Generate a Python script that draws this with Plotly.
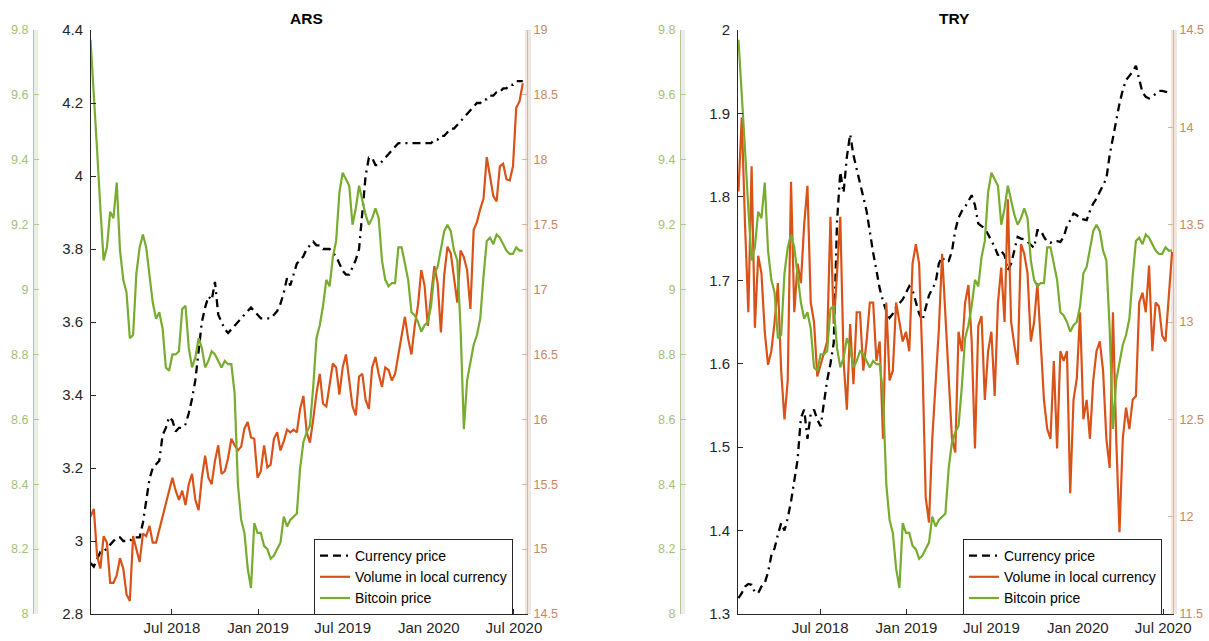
import pandas as pd
import plotly.graph_objects as go

# ---------------- data (weekly, log scale values) ----------------
week_start = "2018-01-08"
n_weeks = 133

btc_price = [
    9.77, 9.58, 9.43, 9.25, 9.09, 9.13, 9.24, 9.22, 9.33, 9.12,
    9.03, 8.99, 8.85, 8.86, 9.05, 9.13, 9.17, 9.13, 9.04, 8.96,
    8.91, 8.93, 8.88, 8.76, 8.75, 8.80, 8.80, 8.81, 8.94, 8.95,
    8.82, 8.76, 8.79, 8.85, 8.82, 8.76, 8.78, 8.81, 8.80, 8.78,
    8.76, 8.78, 8.77, 8.77, 8.68, 8.40, 8.29, 8.25, 8.14, 8.08,
    8.28, 8.25, 8.25, 8.21, 8.20, 8.17, 8.18, 8.20, 8.22, 8.30,
    8.27, 8.29, 8.30, 8.31, 8.45, 8.53, 8.56, 8.58, 8.70, 8.85,
    8.89, 8.95, 9.03, 9.01, 9.10, 9.15, 9.30, 9.36, 9.34, 9.32,
    9.20, 9.25, 9.32, 9.27, 9.23, 9.20, 9.22, 9.25, 9.22, 9.09,
    9.03, 9.01, 9.02, 9.02, 9.13, 9.13, 9.08, 9.03, 8.93, 8.92,
    8.90, 8.87, 8.89, 8.90, 8.95, 9.05, 9.07, 9.12, 9.18, 9.20,
    9.18, 9.12, 9.09, 8.88, 8.57, 8.72, 8.78, 8.83, 8.86, 8.91,
    9.04, 9.15, 9.16, 9.14, 9.17, 9.16, 9.14, 9.12, 9.11, 9.11,
    9.13, 9.12, 9.12,
]

ars_currency = [
    2.94, 2.93, 2.95, 2.97, 2.97, 2.98, 2.99, 3.00, 3.01, 3.01,
    3.00, 3.00, 3.00, 3.01, 3.01, 3.01, 3.05, 3.11, 3.17, 3.20,
    3.21, 3.22, 3.29, 3.31, 3.34, 3.33, 3.30, 3.31, 3.31, 3.32,
    3.35, 3.39, 3.44, 3.52, 3.60, 3.64, 3.67, 3.66, 3.71, 3.62,
    3.60, 3.58, 3.57, 3.58, 3.59, 3.60, 3.61, 3.62, 3.63, 3.64,
    3.63, 3.62, 3.61, 3.61, 3.61, 3.61, 3.62, 3.63, 3.65, 3.68,
    3.72, 3.70, 3.73, 3.76, 3.77, 3.78, 3.80, 3.81, 3.82, 3.81,
    3.81, 3.80, 3.80, 3.80, 3.79, 3.78, 3.76, 3.74, 3.73, 3.73,
    3.75, 3.77, 3.80, 3.90, 4.00, 4.05, 4.05, 4.03, 4.03, 4.04,
    4.05, 4.06, 4.07, 4.08, 4.09, 4.09, 4.09, 4.09, 4.09, 4.09,
    4.09, 4.09, 4.09, 4.09, 4.09, 4.10, 4.10, 4.11, 4.11, 4.12,
    4.13, 4.13, 4.14, 4.15, 4.16, 4.17, 4.18, 4.19, 4.20, 4.20,
    4.21, 4.21, 4.22, 4.22, 4.23, 4.23, 4.24, 4.24, 4.25, 4.25,
    4.26, 4.26, 4.26,
]

ars_volume = [
    15.25, 15.31, 14.95, 14.85, 15.10, 15.05, 14.74, 14.74, 14.80, 14.93,
    14.85, 14.65, 14.60, 15.10, 15.00, 14.90, 15.12, 15.10, 15.18, 15.05,
    15.05, 15.15, 15.24, 15.35, 15.45, 15.55, 15.45, 15.38, 15.45, 15.34,
    15.50, 15.58, 15.38, 15.30, 15.55, 15.72, 15.55, 15.50, 15.68, 15.80,
    15.58, 15.60, 15.70, 15.85, 15.80, 15.76, 15.79, 15.93, 15.98, 15.86,
    15.85, 15.55, 15.60, 15.80, 15.63, 15.65, 15.85, 15.90, 15.76, 15.83,
    15.92, 15.90, 15.92, 15.90, 16.08, 16.18, 15.90, 15.82, 16.00, 16.20,
    16.35, 16.12, 16.10, 16.25, 16.43, 16.40, 16.19, 16.40, 16.50, 16.30,
    16.10, 16.03, 16.33, 16.35, 16.15, 16.08, 16.40, 16.48, 16.35, 16.25,
    16.40, 16.38, 16.30, 16.35, 16.50, 16.62, 16.79, 16.62, 16.50, 16.72,
    16.88, 17.15, 17.03, 16.72, 16.95, 17.18, 17.05, 16.67, 17.11, 17.33,
    17.28, 17.10, 16.90, 17.30, 17.25, 17.15, 16.85, 17.46, 17.52, 17.62,
    17.70, 18.02, 17.86, 17.72, 17.68, 17.95, 17.97, 17.85, 17.84, 17.95,
    18.40, 18.45, 18.59,
]

try_currency = [
    1.319, 1.325, 1.333, 1.336, 1.335, 1.326, 1.325, 1.333, 1.337, 1.350,
    1.370, 1.379, 1.395, 1.409, 1.400, 1.415, 1.435, 1.460, 1.485, 1.535,
    1.545, 1.510, 1.540, 1.545, 1.533, 1.525, 1.555, 1.580, 1.600, 1.625,
    1.770, 1.830, 1.805, 1.848, 1.875, 1.850, 1.833, 1.818, 1.800, 1.783,
    1.757, 1.733, 1.712, 1.690, 1.675, 1.663, 1.655, 1.660, 1.668, 1.673,
    1.677, 1.685, 1.693, 1.688, 1.675, 1.660, 1.652, 1.667, 1.682, 1.690,
    1.697, 1.720, 1.728, 1.722, 1.723, 1.735, 1.760, 1.775, 1.783, 1.788,
    1.795, 1.802, 1.790, 1.768, 1.765, 1.762, 1.755, 1.748, 1.740, 1.730,
    1.735, 1.730, 1.712, 1.720, 1.735, 1.752, 1.750, 1.749, 1.746, 1.743,
    1.739, 1.760, 1.760, 1.752, 1.746, 1.745, 1.747, 1.747, 1.746, 1.752,
    1.765, 1.772, 1.780, 1.778, 1.774, 1.773, 1.772, 1.783, 1.792, 1.798,
    1.806, 1.813, 1.822, 1.850, 1.872, 1.890, 1.912, 1.928, 1.940, 1.945,
    1.950, 1.957, 1.942, 1.925, 1.920, 1.918, 1.920, 1.923, 1.927, 1.927,
    1.926, 1.925, 1.925,
]

try_volume = [
    13.67, 14.05, 13.50, 13.05, 13.80, 12.97, 13.34, 13.25, 12.95, 12.78,
    12.85, 13.00, 13.20, 12.75, 12.50, 12.70, 13.72, 13.05, 13.30, 13.20,
    13.50, 13.70, 13.10, 13.00, 12.72, 12.78, 12.85, 12.90, 13.54, 12.99,
    13.25, 13.54, 12.80, 12.55, 12.99, 12.68, 13.05, 13.05, 12.75, 12.90,
    13.10, 13.10, 12.80, 12.90, 12.40, 13.10, 12.70, 12.75, 13.10, 13.00,
    12.90, 12.95, 12.85, 13.30, 13.40, 13.30, 12.80, 12.10, 11.97, 12.40,
    12.70, 12.96, 13.35, 13.05, 12.70, 12.40, 12.33, 12.95, 12.85, 13.10,
    13.19, 12.90, 12.35, 12.98, 13.03, 12.60, 12.85, 12.95, 12.62, 13.10,
    13.28, 13.00, 13.63, 13.00, 12.88, 12.78, 13.40, 13.35, 13.25, 12.90,
    13.00, 13.20, 12.90, 12.60, 12.45, 12.40, 12.80, 12.35, 12.85, 12.80,
    12.85, 12.12, 12.60, 12.71, 13.05, 12.50, 12.60, 12.40, 12.70, 12.85,
    12.90, 12.75, 12.40, 12.25, 13.05, 12.40, 11.92, 12.40, 12.56, 12.45,
    12.60, 12.62, 13.10, 13.15, 13.05, 13.29, 12.85, 13.10, 13.08, 12.93,
    12.90, 13.15, 13.36,
]

x_tickvals = ["2018-07-01", "2019-01-01", "2019-07-01", "2020-01-01", "2020-07-01"]
x_ticktext = ["Jul 2018", "Jan 2019", "Jul 2019", "Jan 2020", "Jul 2020"]

btc_ticks = [8, 8.2, 8.4, 8.6, 8.8, 9, 9.2, 9.4, 9.6, 9.8]
ars_cur_ticks = [2.8, 3, 3.2, 3.4, 3.6, 3.8, 4, 4.2, 4.4]
ars_vol_ticks = [14.5, 15, 15.5, 16, 16.5, 17, 17.5, 18, 18.5, 19]
try_cur_ticks = [1.3, 1.4, 1.5, 1.6, 1.7, 1.8, 1.9, 2]
try_vol_ticks = [11.5, 12, 12.5, 13, 13.5, 14, 14.5]

legend_names = ["Currency price", "Volume in local currency", "Bitcoin price"]

# ---------------- styling ----------------
W, H = 1209, 641
FONT = "Liberation Sans, Arial, Helvetica, sans-serif"
BLACK = "#262626"
GREEN = "#77ac30"
ORANGE = "#d95319"
GREEN_AX = "#a2bf78"
GREEN_LINE = "#b3cb91"
ORANGE_AX = "#c98660"
ORANGE_LINE = "#d9b6a1"
DASH = "8px,5px,8px,5px,2px,5px"

dates = pd.date_range(week_start, periods=n_weeks, freq="7D")


def px_x(p):
    return p / W


def px_y(p):
    return (H - p) / H


y_dom = [px_y(614), px_y(30)]


def fmt(v):
    return f"{v:g}"


fig = go.Figure()

panels = [
    dict(x="x", yb="y", yo="y2", yg="y3", legend="legend",
         cur=ars_currency, vol=ars_volume),
    dict(x="x2", yb="y4", yo="y5", yg="y6", legend="legend2",
         cur=try_currency, vol=try_volume),
]

for p in panels:
    fig.add_trace(go.Scatter(
        x=dates, y=p["cur"], mode="lines", name=legend_names[0],
        xaxis=p["x"], yaxis=p["yb"], legend=p["legend"],
        line=dict(color="#000000", width=2.3, dash=DASH)))
    fig.add_trace(go.Scatter(
        x=dates, y=p["vol"], mode="lines", name=legend_names[1],
        xaxis=p["x"], yaxis=p["yo"], legend=p["legend"],
        line=dict(color=ORANGE, width=2.2)))
    fig.add_trace(go.Scatter(
        x=dates, y=btc_price, mode="lines", name=legend_names[2],
        xaxis=p["x"], yaxis=p["yg"], legend=p["legend"],
        line=dict(color=GREEN, width=2.2)))


def xaxis(domain, rng, anchor):
    return dict(domain=domain, anchor=anchor, type="date", range=rng,
                tickvals=x_tickvals, ticktext=x_ticktext,
                ticks="inside", ticklen=5, tickcolor=BLACK,
                showline=True, linecolor=BLACK, linewidth=1,
                showgrid=False, zeroline=False, automargin=False,
                tickfont=dict(family=FONT, size=15, color=BLACK))


def yaxis_black(rng, ticks, anchor):
    return dict(domain=y_dom, anchor=anchor, range=rng,
                tickvals=ticks, ticktext=[fmt(t) for t in ticks],
                ticks="inside", ticklen=5, tickcolor=BLACK,
                showline=True, linecolor=BLACK, linewidth=1,
                showgrid=False, zeroline=False, automargin=False,
                ticklabelstandoff=4,
                tickfont=dict(family=FONT, size=15, color=BLACK))


def yaxis_orange(rng, ticks, over, anchor):
    return dict(overlaying=over, anchor=anchor, side="right", range=rng,
                tickvals=ticks, ticktext=[fmt(t) for t in ticks],
                ticks="inside", ticklen=5, tickcolor=ORANGE_LINE,
                showline=True, linecolor=ORANGE_LINE, linewidth=1,
                showgrid=False, zeroline=False, automargin=False,
                ticklabelstandoff=3,
                tickfont=dict(family=FONT, size=12.5, color=ORANGE_AX))


def yaxis_green(pos, over):
    return dict(overlaying=over, anchor="free", position=pos, side="left",
                range=[8, 9.8], tickvals=btc_ticks,
                ticktext=[fmt(t) for t in btc_ticks],
                ticks="inside", ticklen=5, tickcolor=GREEN_LINE,
                showline=True, linecolor=GREEN_LINE, linewidth=1,
                showgrid=False, zeroline=False, automargin=False,
                ticklabelstandoff=2,
                tickfont=dict(family=FONT, size=12.5, color=GREEN_AX))


def legend_at(px_left):
    return dict(x=px_x(px_left), y=px_y(539), xanchor="left", yanchor="top",
                bordercolor=BLACK, borderwidth=1, bgcolor="white",
                font=dict(family=FONT, size=14, color="#000000"),
                tracegroupgap=0, itemclick=False)


bands = [
    (33, 38, "#ececec"), (680, 685, "#ececec"),
    (525, 531, "#efe6e1"), (1171, 1177, "#efe6e1"),
]
shapes = [dict(type="rect", xref="paper", yref="paper",
               x0=px_x(a), x1=px_x(b), y0=y_dom[0], y1=y_dom[1],
               fillcolor=c, line=dict(width=0), layer="below")
          for a, b, c in bands]

annotations = [
    dict(text="<b>ARS</b>", x=px_x(306), y=px_y(18), xref="paper", yref="paper",
         showarrow=False, xanchor="center", yanchor="middle",
         font=dict(family=FONT, size=15.5, color="#000000")),
    dict(text="<b>TRY</b>", x=px_x(954), y=px_y(18), xref="paper", yref="paper",
         showarrow=False, xanchor="center", yanchor="middle",
         font=dict(family=FONT, size=15.5, color="#000000")),
]

fig.update_layout(
    width=W, height=H,
    margin=dict(l=0, r=0, t=0, b=0, pad=0),
    paper_bgcolor="white", plot_bgcolor="white",
    font=dict(family=FONT, color=BLACK),
    xaxis=xaxis([px_x(91), px_x(527)], ["2018-01-09", "2020-07-29"], "y"),
    yaxis=yaxis_black([2.8, 4.4], ars_cur_ticks, "x"),
    yaxis2=yaxis_orange([14.5, 19], ars_vol_ticks, "y", "x"),
    yaxis3=yaxis_green(px_x(33), "y"),
    xaxis2=xaxis([px_x(738), px_x(1173)], ["2018-01-07", "2020-07-22"], "y4"),
    yaxis4=yaxis_black([1.3, 2], try_cur_ticks, "x2"),
    yaxis5=yaxis_orange([11.5, 14.5], try_vol_ticks, "y4", "x2"),
    yaxis6=yaxis_green(px_x(680), "y4"),
    legend=legend_at(314),
    legend2=legend_at(963),
    shapes=shapes,
    annotations=annotations,
    showlegend=True,
    hovermode=False,
)

fig.write_html(
    "out.html",
    config={"displayModeBar": False, "staticPlot": True},
    post_script="document.body.style.margin='0';document.body.style.padding='0';"
                "document.body.style.overflow='hidden';",
)
